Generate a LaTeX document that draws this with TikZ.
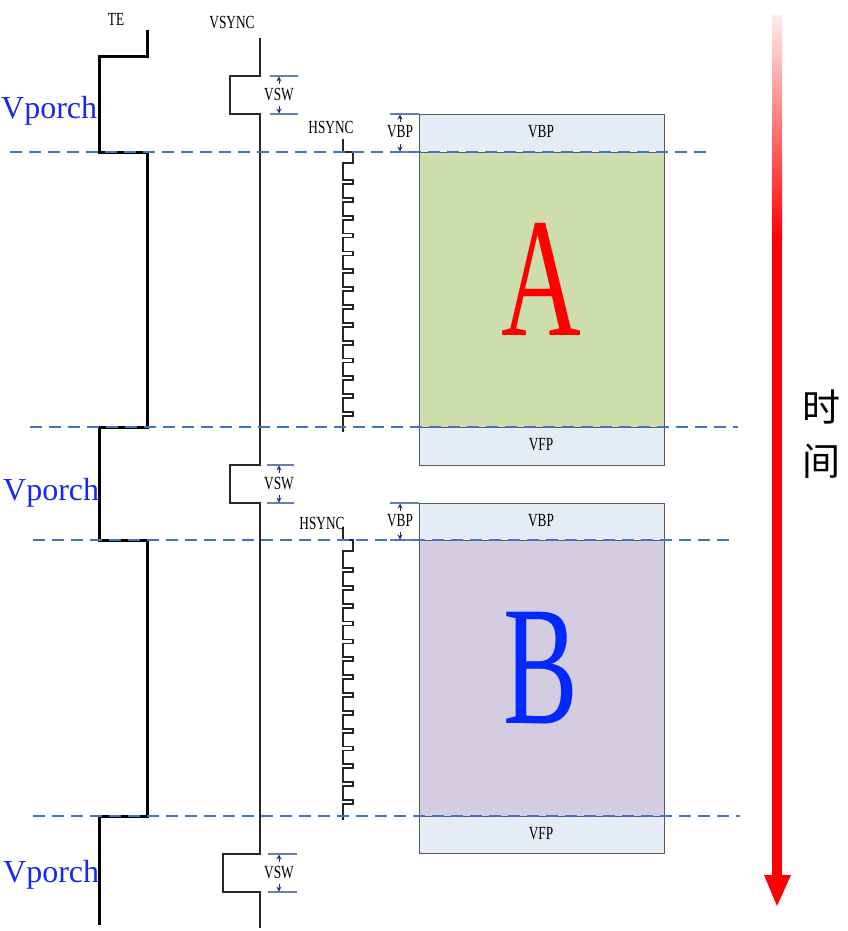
\documentclass[tikz,border=0pt]{standalone}
\usepackage{fontspec}
\usepackage{graphicx}
\setmainfont{Liberation Serif}
\newfontfamily\cjk{Noto Sans CJK SC}
\usetikzlibrary{arrows.meta}
\definecolor{gridblue}{RGB}{68,114,196}
\definecolor{dimblue}{RGB}{100,128,176}
\definecolor{navyc}{RGB}{30,50,110}
\definecolor{lightb}{RGB}{230,236,245}
\definecolor{greenf}{RGB}{205,221,172}
\definecolor{purplef}{RGB}{212,204,225}
\definecolor{porchblue}{RGB}{25,40,235}
\definecolor{bblue}{RGB}{0,40,255}
\newcommand\cnd[1]{\scalebox{0.72}[1]{#1}}
\newcommand\hsyncwave[1]{%
  \draw[sig] (343,139+#1) -- (343,152+#1) -- (353,152+#1) -- (353,163+#1) -- (343,163+#1)
    \foreach \k in {0,...,13} { -- (343,{180+#1+17.85*\k}) -- (353,{180+#1+17.85*\k}) -- (353,{184+#1+17.85*\k}) -- (343,{184+#1+17.85*\k}) }
    -- (343,432+#1);}
\begin{document}
\begin{tikzpicture}[x=1pt,y=-1pt,
  sig/.style={line width=1.8pt, black!85, line join=miter},
  tesig/.style={line width=3pt, black, line join=miter},
  gridline/.style={draw=gridblue, line width=1.2pt, dash pattern=on 12pt off 7pt},
  dimline/.style={draw=dimblue, line width=1.3pt},
  dimarr/.style={-{Stealth[length=5pt,width=5pt]}, draw=navyc, line width=0.9pt},
  lbl/.style={inner sep=0pt, font=\fontsize{18.5}{18.5}\selectfont},
  porch/.style={inner sep=0pt, anchor=base west, text=porchblue, font=\fontsize{32}{32}\selectfont},
  framebox/.style={draw=black!65, line width=0.8pt},
  big/.style={inner sep=0pt, anchor=base, font=\fontsize{170}{170}\selectfont}
]
\useasboundingbox (0,0) rectangle (848,931);
% frame boxes
\draw[framebox, fill=lightb] (419,114) rectangle (664,152);
\draw[framebox, fill=greenf] (419,152) rectangle (664,427);
\draw[framebox, fill=lightb] (419,427) rectangle (664,465);
\draw[framebox, fill=lightb] (419,503) rectangle (664,540);
\draw[framebox, fill=purplef] (419,540) rectangle (664,816);
\draw[framebox, fill=lightb] (419,816) rectangle (664,853);
\node[lbl] (vbpa) at (541,132) {\cnd{VBP}};
\node[lbl] (vfpa) at (541,445) {\cnd{VFP}};
\node[lbl] (vbpb) at (541,521) {\cnd{VBP}};
\node[lbl] (vfpb) at (541,834) {\cnd{VFP}};
\node[big, text=red] (la) at (541,335) {\scalebox{0.65}[1]{A}};
\node[big, text=bblue] (lb) at (541,723) {\scalebox{0.66}[1]{B}};
% TE signal
\draw[tesig] (147,30) -- (147,57) -- (99,57) -- (99,152) -- (147,152) -- (147,427) -- (99,427) -- (99,540) -- (147,540) -- (147,816) -- (99,816) -- (99,925);
\node[lbl] (te) at (116,19) {\cnd{TE}};
% VSYNC signal
\draw[sig] (260,38) -- (260,76) -- (230,76) -- (230,114) -- (260,114) -- (260,465) -- (230,465) -- (230,503) -- (260,503) -- (260,854) -- (223,854) -- (223,892) -- (260,892) -- (260,928);
\node[lbl] (vsync) at (232,23) {\cnd{VSYNC}};
% HSYNC signals
\hsyncwave{0}
\hsyncwave{388}
\node[lbl] (hs1) at (331,127) {\cnd{HSYNC}};
\node[lbl] (hs2) at (322,523) {\cnd{HSYNC}};
% VSW dimensions
\foreach \t/\b/\l/\r/\n in {76/114/270/298/1, 465/503/267/294/2, 854/892/268/297/3}{
  \draw[dimline] (\l,\t) -- (\r,\t);
  \draw[dimline] (\l,\b) -- (\r,\b);
  \draw[dimarr] (279,\t+8) -- (279,\t+0.5);
  \draw[dimarr] (279,\b-8) -- (279,\b-0.5);
  \node[lbl] (vsw\n) at (279,{(\t+\b)/2}) {\cnd{VSW}};
}
% VBP dimensions
\foreach \t/\b/\n in {114/152/1, 503/540/2}{
  \draw[dimline] (390,\t) -- (419,\t);
  \draw[dimline] (390,\b) -- (419,\b);
  \draw[dimarr] (400,\t+8) -- (400,\t+0.5);
  \draw[dimarr] (400,\b-8) -- (400,\b-0.5);
  \node[lbl] (vbpd\n) at (400,{(\t+\b)/2-1}) {\cnd{VBP}};
}
% dashed time lines
\draw[gridline] (10,152) -- (711,152);
\draw[gridline] (30,427) -- (738,427);
\draw[gridline] (33,540) -- (735,540);
\draw[gridline] (33,816) -- (740,816);
% Vporch labels
\node[porch] (vp1) at (1,118) {Vporch};
\node[porch] (vp2) at (3,500) {Vporch};
\node[porch] (vp3) at (3,882) {Vporch};
% time arrow
\shade[top color=red!8, bottom color=red] (772,16) rectangle (782,240);
\fill[red] (772,239) rectangle (782,876);
\fill[red] (764,875) -- (791,875) -- (777,906) -- cycle;
\node[inner sep=0pt, font=\cjk\fontsize{38}{38}\selectfont] (shi) at (821,407) {时};
\node[inner sep=0pt, font=\cjk\fontsize{38}{38}\selectfont] (jian) at (821,461) {间};
\end{tikzpicture}
\end{document}
